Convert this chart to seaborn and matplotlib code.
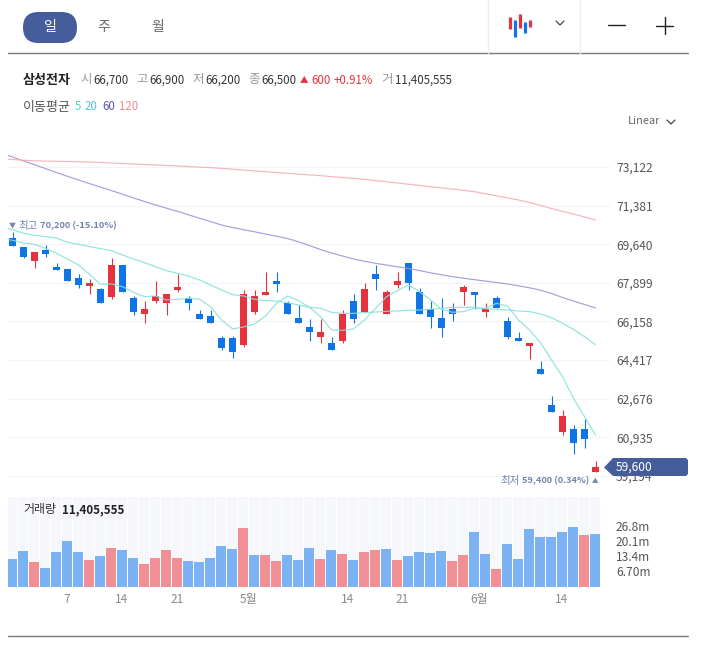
import numpy as np
import pandas as pd
import matplotlib
matplotlib.use("Agg")
import matplotlib.pyplot as plt
from matplotlib.patches import FancyBboxPatch, Polygon
from matplotlib.transforms import ScaledTranslation
import seaborn as sns

# ---- data ----
opens = [69900,69500,68900,69400,68610,68500,68120,67760,67620,67250,68700,67210,66500,67080,66990,67560,67210,66490,66400,65410,65410,
         65100,66580,67350,67980,66990,66310,65910,65460,65190,65280,67080,66580,68300,66490,67800,68790,67490,66720,66310,66720,
         67490,67490,66580,67210,66180,65410,65050,64010,62390,61170,61310,61310,59370]
closes = [69580,69060,69290,69200,68490,68000,67820,67890,66990,68700,67500,66580,66720,67300,67390,67710,66990,66270,66090,64960,64780,
          67390,67300,67480,67850,66490,66090,65680,65680,64880,66490,66270,67620,68070,67480,67980,67890,66490,66360,65860,66490,
          67710,67350,66720,66760,65460,65280,65190,63790,62070,61890,60680,60860,59600]
highs = [70200,69500,69300,69600,68780,68500,68280,68070,67680,69000,68700,67300,67100,68000,67400,68300,67300,66670,66670,65490,65490,
         67570,67570,68370,68370,67080,66900,66270,66270,65470,66660,67380,67880,68690,67570,68370,68790,67670,67080,67200,66970,
         67800,67490,66970,67300,66370,65680,65190,64370,62780,62160,61470,61770,59870]
lows = [69580,69000,68580,69080,68490,68000,67680,67380,66990,67150,67500,66450,66070,66990,66450,67480,66670,66270,66090,64870,64500,
        65000,66480,67350,67480,66490,66090,65290,65200,64880,65200,66090,66580,67570,66490,67660,67570,66490,65860,65460,66180,
        66880,66700,66370,66760,65370,65280,64480,63790,62070,61040,60180,60450,59370]

ma_index = list(range(-1, 54))
ma5 = [69905,69815,69695,69635,69455,69229,68974,68703,68282,67831,67846,67726,67471,67275,67305,67125,67155,67200,67155,66824,66223,65817,
       65907,66042,66403,66974,67305,67095,66794,66373,65772,65757,65817,66223,66749,67275,67545,67801,67500,67124,66704,66568,
       66600,66749,66749,66974,66854,66223,65772,65200,64419,63667,62690,61864,61037]
ma20 = [70431,70296,70131,70041,69981,69920,69725,69635,69530,69440,69349,69154,68974,68808,68628,68448,68327,68207,68027,67801,67576,67365,
        67305,67155,67095,67079,67004,66899,66794,66749,66568,66523,66523,66553,66583,66613,66628,66659,66674,66704,66749,66794,
        66794,66794,66734,66704,66673,66628,66598,66493,66328,66072,65802,65471,65110]
ma60 = [73753,73573,73393,73226,73050,72874,72703,72536,72373,72215,72058,71895,71728,71566,71408,71264,71120,70966,70813,70660,70506,
        70393,70294,70200,70100,70001,69897,69749,69582,69401,69243,69108,68973,68869,68779,68702,68621,68540,68450,68351,68261,
        68179,68107,68040,67976,67913,67845,67764,67674,67566,67417,67236,67079,66921,66763]
ma120_index = [-1,2,7,11,15,19,23,28,32,38,40,42,44,46,47,49,51,53]
ma120 = [73490,73400,73348,73257,73170,73063,72910,72730,72567,72234,72130,72008,71823,71634,71521,71250,71002,70732]

volume_m = [12.4,15.9,11.0,8.3,15.5,20.4,15.5,11.9,13.7,17.3,16.4,12.8,10.1,12.8,16.4,12.8,11.5,11.0,12.8,18.2,16.8,26.2,14.1,14.1,
            11.5,14.1,11.9,17.3,12.4,16.4,14.6,11.9,15.5,16.4,16.8,11.9,13.7,15.5,15.0,15.9,11.5,14.1,24.4,14.6,7.9,19.1,12.4,25.8,
            22.2,22.2,24.4,26.7,23.1,23.5]
volume_side = ["d","d","u","d","d","d","d","u","d","u","d","d","u","u","u","u","d","d","d","d","d","u","d","u",
               "u","d","d","d","u","d","u","d","u","u","d","u","d","d","d","d","u","u","d","d","u","d","d","d",
               "d","d","d","d","u","d"]

price_ticks = [73122,71381,69640,67899,66158,64417,62676,60935,59194]
vol_ticks = [6.7,13.4,20.1,26.8]
vol_tick_labels = ["6.70m","13.4m","20.1m","26.8m"]
date_ticks = [5,10,15,21.5,30.5,35.5,42.5,50]
date_labels = ["7","14","21","5월","14","21","6월","14"]

RED, BLUE = "#e5323e", "#0f74e6"
VRED, VBLUE = "#f09096", "#7ab2f4"
TICK = "#555555"
W, H = 702, 645

sns.set_theme(style="white")
plt.rcParams["font.family"] = ["Noto Sans CJK KR", "DejaVu Sans"]
px = lambda p: p * 0.72

fig = plt.figure(figsize=(W / 100, H / 100), dpi=100, facecolor="white")

def box(l, t, r, b):
    return fig.add_axes([l / W, 1 - b / H, (r - l) / W, (b - t) / H])

# ---- price panel ----
ax = box(8, 140, 610, 484)
n = len(opens)
xs = np.arange(n)
ax.set_xlim((8 - 12.5) / 11, (610 - 12.5) / 11)
ax.set_ylim(58825, 74340)
colors = [RED if c >= o else BLUE for o, c in zip(opens, closes)]
ax.vlines(xs, lows, highs, colors=colors, linewidth=0.8, zorder=3)
ax.bar(xs, np.abs(np.array(closes) - np.array(opens)), bottom=np.minimum(opens, closes),
       width=0.64, color=colors, linewidth=0, zorder=4)
for idx, vals, col in [(ma_index, ma5, "#86e0da"), (ma_index, ma20, "#86e0da"),
                       (ma_index, ma60, "#a193dc"), (ma120_index, ma120, "#f4adb5")]:
    sns.lineplot(data=pd.DataFrame({"i": idx, "v": vals}), x="i", y="v", ax=ax, color=col,
                 linewidth=0.85, errorbar=None, alpha=0.9, zorder=5)
ax.set_xlabel(""); ax.set_ylabel("")
ax.set_xticks([])
ax.yaxis.tick_right()
ax.set_yticks(price_ticks)
ax.set_yticklabels([f"{t:,}" for t in price_ticks], fontsize=px(12), color=TICK)
ax.tick_params(axis="y", length=0, pad=4.3)
ax.grid(axis="y", color="#f3f3f5", linewidth=0.8)
ax.set_axisbelow(True)
sns.despine(ax=ax, left=True, right=True, top=True, bottom=True)

# ---- volume panel ----
av = box(8, 497, 600, 586.7)
vlim = ((8 - 12) / 11, (600 - 12) / 11)
av.set_xlim(*vlim)
av.set_ylim(0, 40.07)
av.bar(xs, [40.07] * n, width=10 / 11, color="#f5f7fb", linewidth=0, zorder=1)
sns.barplot(data=pd.DataFrame({"i": xs, "v": volume_m, "s": volume_side}), x="i", y="v", hue="s",
            palette={"u": VRED, "d": VBLUE}, native_scale=True, dodge=False, width=10 / 11,
            saturation=1, legend=False, ax=av, linewidth=0, zorder=2)
av.set_xlim(*vlim)
av.set_ylim(0, 40.07)
av.set_xlabel(""); av.set_ylabel("")
av.yaxis.tick_right()
av.set_yticks(vol_ticks)
av.set_yticklabels(vol_tick_labels, fontsize=px(12), color=TICK)
av.set_xticks(date_ticks)
av.set_xticklabels(date_labels, fontsize=px(12), color="#8a8a8a")
av.tick_params(axis="y", length=0, pad=11.5)
av.tick_params(axis="x", length=0, pad=4.2)
av.grid(False)
up = ScaledTranslation(0, 1.2 / 100, fig.dpi_scale_trans)
for lab in av.get_yticklabels():
    lab.set_transform(lab.get_transform() + up)
sns.despine(ax=av, left=True, right=True, top=True, bottom=True)

# ---- overlay in pixel coordinates: header, badge, notes ----
ov = fig.add_axes([0, 0, 1, 1], zorder=10)
ov.set_xlim(0, W); ov.set_ylim(H, 0); ov.axis("off"); ov.patch.set_alpha(0)

def T(x, y, s, size=12, color="#333333", weight="normal", ha="left"):
    ov.text(x, y, s, fontsize=px(size), color=color, fontweight=weight, ha=ha, va="center")

ov.plot([8, 688], [53, 53], color="#7a7a7a", lw=1)
ov.plot([8, 688], [636, 636], color="#7a7a7a", lw=1)
ov.plot([488, 488], [0, 53], color="#eeeeee", lw=1)
ov.plot([580, 580], [0, 53], color="#eeeeee", lw=1)
ov.add_patch(FancyBboxPatch((23, 12), 54, 31, boxstyle="round,pad=0,rounding_size=15.5", lw=0, fc="#455e9b"))
T(50, 27, "일", 14, "white", "normal", "center")
T(104, 27, "주", 14, "#666666", "normal", "center")
T(158, 27, "월", 14, "#666666", "normal", "center")
for x, y0, y1, c in [(510.3, 17, 29, RED), (515.3, 20, 37, BLUE), (520.3, 14, 28, RED),
                     (525.3, 22, 33, BLUE), (530.3, 20, 27, RED)]:
    ov.plot([x, x], [y0, y1], color=c, lw=2.3, solid_capstyle="butt")
ov.plot([556, 560, 564], [21, 25, 21], color="#444444", lw=0.9)
ov.plot([608, 625], [25, 25], color="#222222", lw=1)
ov.plot([656, 673], [25.5, 25.5], color="#222222", lw=1)
ov.plot([664.5, 664.5], [17, 34], color="#222222", lw=1)

T(23, 80, "삼성전자", 13, "#222222", "bold")
for x, s in [(80, "시"), (136, "고"), (192, "저"), (248, "종"), (381, "거")]:
    T(x, 80, s, 12.5, "#999999")
for x, s in [(93, "66,700"), (149, "66,900"), (205, "66,200"), (261, "66,500"), (395, "11,405,555")]:
    T(x, 80, s, 11.5, "#333333")
T(300, 80, "▲", 8.5, RED)
T(311, 80, "600", 11.5, RED)
T(334, 80, "+0.91%", 11.5, RED)

T(23, 107, "이동평균", 13, "#555555")
for x, s, c in [(75, "5", "#55d0c0"), (85, "20", "#5cc0de"), (102, "60", "#5a55b5"), (119, "120", "#f08a8a")]:
    T(x, 107, s, 11.5, c)
T(628, 121, "Linear", 11, "#666666")
ov.plot([667, 671, 675], [120, 124, 120], color="#444444", lw=0.9)

NOTE = "#7384ae"
T(9, 226, "▼", 7, NOTE)
T(18, 226, "최고", 10.5, NOTE)
T(40, 226, "70,200 (-15.10%)", 9.3, NOTE, "bold")
T(500, 481, "최저", 10.5, NOTE)
T(521.5, 481, "59,400 (0.34%)", 9.2, NOTE, "bold")
T(592, 481, "▲", 6.5, NOTE)

ov.add_patch(Polygon([(604, 467.5), (613, 458), (686, 458), (688, 460), (688, 474), (686, 476), (613, 476)],
                     closed=True, fc="#455e9b", ec="none"))
T(616, 467.5, "59,600", 12, "white")

T(23, 510, "거래량", 12, "#333333")
T(62, 510, "11,405,555", 11.5, "#222222", "bold")

fig.savefig("out.png", dpi=100)
